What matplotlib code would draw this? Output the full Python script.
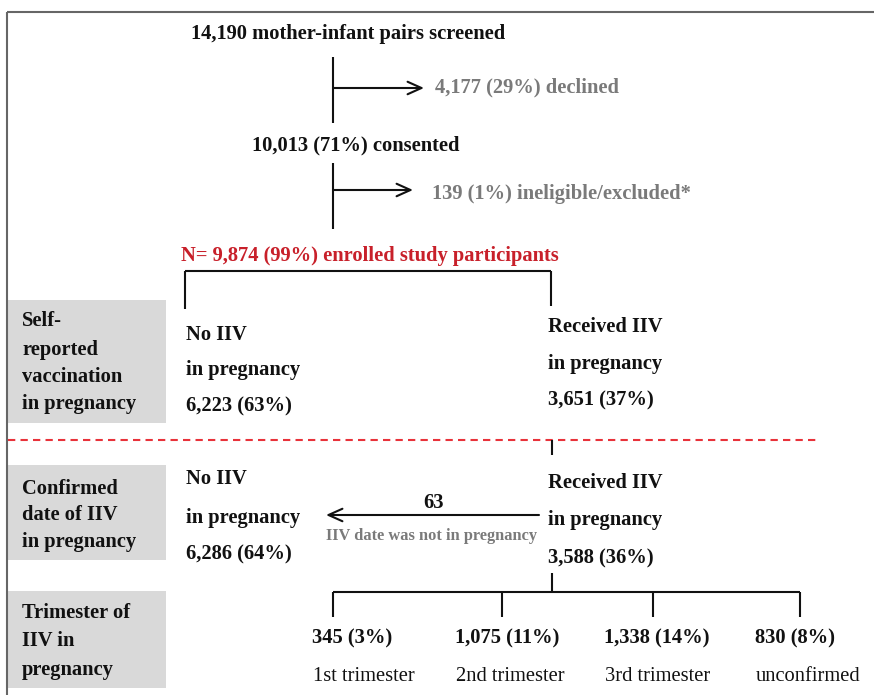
import matplotlib
matplotlib.use("Agg")
import matplotlib.pyplot as plt

# ---- data ----
screened = "14,190 mother-infant pairs screened"
declined = "4,177 (29%) declined"
consented = "10,013 (71%) consented"
excluded = "139 (1%) ineligible/excluded*"
enrolled = "N= 9,874 (99%) enrolled study participants"
row_labels = ["Self-\nreported\nvaccination\nin pregnancy",
              "Confirmed\ndate of IIV\nin pregnancy",
              "Trimester of\nIIV in\npregnancy"]
self_no = ["No IIV", "in pregnancy", "6,223 (63%)"]
self_yes = ["Received IIV", "in pregnancy", "3,651 (37%)"]
conf_no = ["No IIV", "in pregnancy", "6,286 (64%)"]
conf_yes = ["Received IIV", "in pregnancy", "3,588 (36%)"]
moved_n = "63"
moved_note = "IIV date was not in pregnancy"
tri_counts = ["345 (3%)", "1,075 (11%)", "1,338 (14%)", "830 (8%)"]
tri_names = ["1st trimester", "2nd trimester", "3rd trimester", "unconfirmed"]

FONT = "Liberation Serif"
BLACK = "#111111"
GRAY = "#7a7a7a"
RED = "#c8202a"
BOX = "#d9d9d9"
FS = 14.8

fig = plt.figure(figsize=(8.74, 6.95), dpi=100)
ax = fig.add_axes([0, 0, 1, 1])
ax.set_xlim(0, 874)
ax.set_ylim(695, 0)
ax.axis("off")

def line(xs, ys, **kw):
    ax.plot(xs, ys, color=kw.pop("color", BLACK), lw=kw.pop("lw", 1.5),
            solid_capstyle="butt", **kw)

def txt(x, y, s, color=BLACK, weight="bold", size=FS, ha="left", **kw):
    ax.text(x, y + 1.5, s, color=color, fontweight=weight, fontsize=size,
            ha=ha, va="center", family=FONT, **kw)

def arrow(x0, y0, x1, y1):
    ax.annotate("", xy=(x1, y1), xytext=(x0, y0),
                arrowprops=dict(arrowstyle="->,head_length=1.0,head_width=0.45",
                                color=BLACK, lw=1.5, shrinkA=0, shrinkB=0))

# frame
line([7, 874], [12, 12], color="#666666", lw=1.5)
line([7, 7], [12, 695], color="#666666", lw=1.5)

# top flow
txt(348, 33, screened, ha="center")
line([333, 333], [57, 123])
arrow(333, 88, 424, 88)
txt(435, 86, declined, color=GRAY)
txt(356, 144, consented, ha="center")
line([333, 333], [163, 229])
arrow(333, 190, 413, 190)
txt(432, 193, excluded, color=GRAY)
txt(370, 254, enrolled, color=RED, ha="center")

# bracket
line([185, 551], [271, 271])
line([185, 185], [271, 309])
line([551, 551], [271, 306])

# gray row boxes
for (y0, y1), lab, ys in zip([(300, 423), (465, 560), (591, 688)], row_labels,
                             [[320, 348, 375, 403], [487, 514, 541], [612, 640, 668]]):
    ax.add_patch(plt.Rectangle((8, y0), 158, y1 - y0, color=BOX, lw=0))
    for yy, s in zip(ys, lab.split("\n")):
        txt(22, yy, s)

for yy, s in zip([333, 369, 405], self_no):
    txt(186, yy, s)
for yy, s in zip([325, 362, 399], self_yes):
    txt(548, yy, s)

# dashed separator
line([8, 820], [440, 440], color="#e8323a", lw=1.5, linestyle=(0, (3.5, 2.5)))
line([552, 552], [440, 455])

for yy, s in zip([478, 517, 553], conf_no):
    txt(186, yy, s)
for yy, s in zip([482, 519, 557], conf_yes):
    txt(548, yy, s)

arrow(539, 515, 326, 515)
txt(433, 501, moved_n, ha="center")
txt(432, 534, moved_note, color=GRAY, size=11.8, ha="center")

# trimester branch
line([552, 552], [573, 592])
xs = [333, 502, 653, 800]
line([xs[0], xs[-1]], [592, 592])
for x in xs:
    line([x, x], [592, 617])
for x, c, n in zip([312, 455, 604, 755], tri_counts, tri_names):
    txt(x, 637, c)
    txt(x + 1, 675, n, weight="normal")

fig.savefig("out.png", dpi=100)
